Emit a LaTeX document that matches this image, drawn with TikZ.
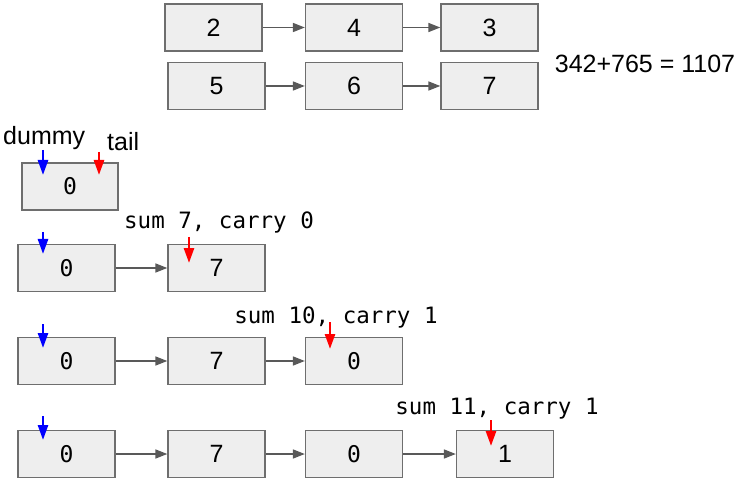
\documentclass[tikz,border=0pt]{standalone}
\usepackage{fontspec}
\setmainfont{Liberation Sans}
\setmonofont{DejaVu Sans Mono}
\usetikzlibrary{arrows.meta}
\definecolor{boxfill}{HTML}{EEEEEE}
\definecolor{boxline}{HTML}{6E6E6E}
\definecolor{linkc}{HTML}{595959}
\tikzset{
  box/.style={draw=boxline, fill=boxfill, line width=1.3pt, minimum width=97pt, minimum height=47pt, inner sep=0pt, font=\fontsize{25}{29}\selectfont},
  zbox/.style={box, font=\ttfamily\fontsize{23}{27}\selectfont},
  link/.style={draw=linkc, line width=1.5pt, -{Triangle[length=12pt,width=9pt]}},
  bptr/.style={draw=blue, line width=2.6pt, -{Triangle[length=15pt,width=10pt]}},
  rptr/.style={draw=red, line width=2.6pt, -{Triangle[length=15pt,width=10pt]}},
  lbl/.style={inner sep=0pt, font=\fontsize{25}{29}\selectfont},
  mono/.style={inner sep=0pt, font=\ttfamily\fontsize{22.5}{26}\selectfont},
}
\begin{document}
\begin{tikzpicture}[x=1pt,y=-1pt]
\useasboundingbox (0,0) rectangle (738,486);
\fill[white] (0,0) rectangle (738,486);
% input lists
\node[box] (a1) at (213.5,27.5) {2};
\node[box] (a2) at (354,27.5) {4};
\node[box] (a3) at (489.5,27.5) {3};
\node[box] (b1) at (216.5,86) {5};
\node[box] (b2) at (354,86) {6};
\node[box] (b3) at (489.5,86) {7};
\draw[link] (a1) -- (a2);
\draw[link] (a2) -- (a3);
\draw[link] (b1) -- (b2);
\draw[link] (b2) -- (b3);
\node[lbl] (eq) at (645,64) {342+765 = 1107};
% step 0
\node[lbl, anchor=west] (dummy) at (3,138) {dummy};
\node[lbl, anchor=west] (tail) at (107,142) {tail};
\node[zbox, minimum width=96pt] (s0) at (70,186.5) {0};
\coordinate (s0b) at (43,150); \coordinate (s0r) at (99,152);
\draw[bptr] (s0b) -- ++(0,25);
\draw[rptr] (s0r) -- ++(0,23);
% step 1
\node[zbox] (c1) at (66.5,268) {0};
\node[box] (c2) at (216.5,268) {7};
\draw[link] (c1) -- (c2);
\node[mono] (t1) at (219,222) {sum 7, carry 0};
\coordinate (c1b) at (43,232); \coordinate (c2r) at (189,237);
\draw[bptr] (c1b) -- ++(0,22);
\draw[rptr] (c2r) -- ++(0,26);
% step 2
\node[zbox] (d1) at (66.5,361) {0};
\node[box] (d2) at (216.5,361) {7};
\node[zbox] (d3) at (354,361) {0};
\draw[link] (d1) -- (d2);
\draw[link] (d2) -- (d3);
\node[mono] (t2) at (336,317) {sum 10, carry 1};
\coordinate (d1b) at (43,324); \coordinate (d3r) at (330,322);
\draw[bptr] (d1b) -- ++(0,24);
\draw[rptr] (d3r) -- ++(0,27);
% step 3
\node[zbox] (e1) at (66.5,454) {0};
\node[box] (e2) at (216.5,454) {7};
\node[zbox] (e3) at (354,454) {0};
\node[box] (e4) at (505,454) {1};
\draw[link] (e1) -- (e2);
\draw[link] (e2) -- (e3);
\draw[link] (e3) -- (e4);
\node[mono] (t3) at (497,409) {sum 11, carry 1};
\coordinate (e1b) at (43,416); \coordinate (e4r) at (491,420);
\draw[bptr] (e1b) -- ++(0,24);
\draw[rptr] (e4r) -- ++(0,26);
\end{tikzpicture}
\end{document}
